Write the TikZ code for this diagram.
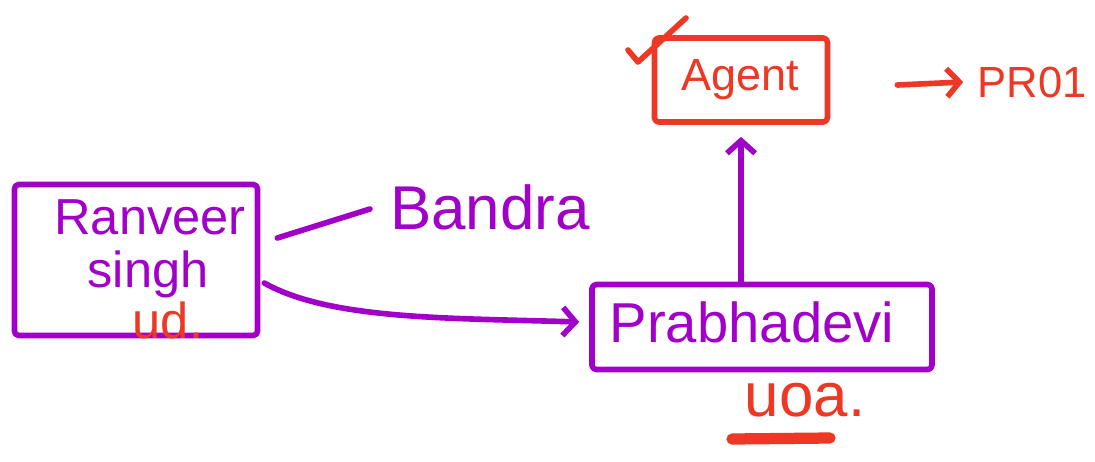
\documentclass[tikz,border=0pt]{standalone}
\usepackage{fontspec}
\setmainfont{Liberation Sans}
\usetikzlibrary{arrows.meta,calc}
\definecolor{pur}{RGB}{160,0,200}
\definecolor{rd}{RGB}{236,56,36}
\tikzset{
  pen/.style={line width=4pt,line cap=round,line join=round},
  boxp/.style={pen,draw=pur,rectangle,inner sep=0pt,rounded corners=3pt},
  boxr/.style={pen,draw=rd,rectangle,inner sep=0pt,rounded corners=3pt},
  txt/.style={inner sep=0pt,anchor=center},
  arr/.style={pen,-{Straight Barb[length=9pt,width=20pt,line width=4pt]}},
  fs/.style={font=\fontsize{#1}{#1}\selectfont}
}
\begin{document}
\begin{tikzpicture}[x=0.025cm,y=-0.025cm]
\useasboundingbox (0,0) rectangle (1095,461);
% Ranveer box
\node[boxp,minimum width=243*0.025cm,minimum height=151*0.025cm] (rbox) at (136,260) {};
\node[txt,fs=36,text=pur] (ranveer) at (150,217) {Ranveer};
\node[txt,fs=36,text=pur] (singh) at (148,274) {singh};
\node[txt,fs=36,text=rd] (ud) at (168,320) {ud.};
% Bandra
\node[txt,fs=44,text=pur] (bandra) at (490,207) {Bandra};
% Prabhadevi box
\node[boxp,minimum width=340*0.025cm,minimum height=85*0.025cm] (pbox) at (762,327) {};
\node[txt,fs=40,text=pur] (prab) at (752,322) {Prabhadevi};
\node[txt,fs=44,text=rd] (uoa) at (805,400) {uoa.};
\coordinate (ul1) at (732,439);
\coordinate (ul2) at (830,438);
\draw[rd,line width=8pt,line cap=round] (ul1) -- (ul2);
% Agent box
\node[boxr,minimum width=173*0.025cm,minimum height=84*0.025cm] (abox) at (741,80) {};
\node[txt,fs=32,text=rd] (agent) at (740,80) {Agent};
\node[txt,fs=31,text=rd] (pr) at (1032,82) {PR01};
% check mark
\draw[rd,pen] (628,50) -- (638,62) -- (686,18);
% connectors
\draw[pur,pen] ($(rbox.east)+(17,-22)$) -- ($(bandra.west)+(-20,2)$);
\draw[pur,arr] ($(rbox.east)+(4,23)$) .. controls (330,320) and (450,318) .. ($(pbox.west)+(-10,-5)$);
\draw[pur,arr] (abox.south |- pbox.north) -- ($(abox.south)+(0,12)$);
\draw[rd,arr] ($(abox.east)+(67,5)$) -- ($(pr.west)+(-14,0)$);
\end{tikzpicture}
\end{document}
